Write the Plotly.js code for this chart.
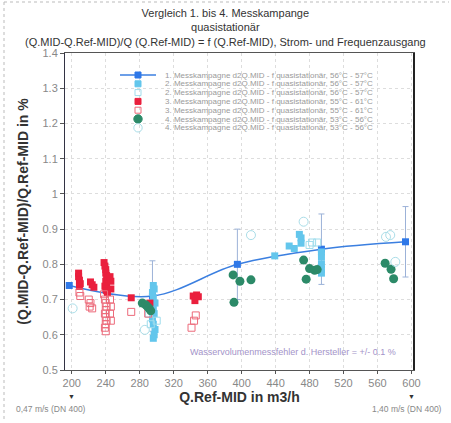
<!DOCTYPE html>
<html><head><meta charset="utf-8">
<script src="https://cdn.plot.ly/plotly-3.0.1.min.js"></script>
<style>html,body{margin:0;padding:0;background:#fff}#chart{width:451px;height:423px}</style>
</head><body><div id="chart"></div>
<script>
// ---- data ----
const seriesNames = [
  "1. Messkampagne d2Q.MID - f quasistationär, 56°C - 57°C",
  "2. Messkampagne d2Q.MID - f quasistationär, 56°C - 57°C",
  "2. Messkampagne d2Q.MID - f quasistationär, 56°C - 57°C",
  "3. Messkampagne d2Q.MID - f quasistationär, 55°C - 61°C",
  "3. Messkampagne d2Q.MID - f quasistationär, 55°C - 61°C",
  "4. Messkampagne d2Q.MID - f quasistationär, 53°C - 56°C",
  "4. Messkampagne d2Q.MID - f quasistationär, 53°C - 56°C"
];
const xTicks = [200,240,280,320,360,400,440,480,520,560,600];
const yTicks = [0.5,0.6,0.7,0.8,0.9,1,1.1,1.2,1.3,1.4];

const s1x = [197, 295, 395, 494, 593];
const s1y = [0.740, 0.710, 0.800, 0.843, 0.864];
const s1err = [0, 0.10, 0.10, 0.10, 0.10];

const s2x = [296,297,295,296,298,296,297,295,296,298,297,296,  439, 456, 462, 468, 470, 470, 494,494,494,494,494];
const s2y = [0.740,0.730,0.720,0.705,0.690,0.675,0.660,0.645,0.630,0.615,0.600,0.590, 0.824,0.852,0.845,0.885,0.875,0.860, 0.835,0.820,0.800,0.785,0.775];

const s3x = [291, 300, 293, 483, 489, 480];
const s3y = [0.660, 0.640, 0.630, 0.862, 0.862, 0.855];

const s4x = [208,208,209,210,209, 222,224,226, 238,239,240,240,241,242,240,241,239,240,241,242, 245,246,246, 270, 292, 343,347,349,345];
const s4y = [0.775,0.765,0.755,0.745,0.737, 0.750,0.742,0.735, 0.805,0.795,0.785,0.775,0.768,0.760,0.752,0.745,0.738,0.730,0.725,0.720, 0.765,0.752,0.730, 0.705, 0.690, 0.710,0.713,0.708,0.697];

const s5x = [209,210, 220,222,221,224, 238,239,240,241,240,239,240,241,240,239,240, 245,246,245,246, 270, 290, 346,344,341];
const s5y = [0.720,0.710, 0.700,0.690,0.680,0.675, 0.715,0.700,0.690,0.680,0.670,0.660,0.650,0.640,0.630,0.620,0.610, 0.700,0.680,0.660,0.640, 0.665, 0.660, 0.655,0.640,0.620];

const s6x = [283,287,289,291,293, 390,398,411,391, 473,480,486,476,489, 569,576,579];
const s6y = [0.690,0.685,0.680,0.675,0.668, 0.770,0.752,0.756,0.692, 0.812,0.788,0.783,0.758,0.785, 0.803,0.786,0.759];

const s7x = [286, 411, 473, 570, 575, 581, 201];
const s7y = [0.614, 0.883, 0.921, 0.878, 0.883, 0.807, 0.675];

// ---- geometry helpers ----
const W=451,H=423;
const M={l:65,r:37,t:53,b:53};
const PW=W-M.l-M.r, PH=H-M.t-M.b;
const xp = px => (px-M.l)/PW;
const yp = py => (H-M.b-py)/PH;

const FONT = "Liberation Sans, Arial, sans-serif";
const C = {
  blue:'#2f78e8', line:'#3b7fe0', err:'#9cb2d8',
  cyan:'#63c6ec', cyanOpen:'#9fdcec',
  red:'#ea1f3d', redOpen:'#ec6a7a',
  green:'#2c8a68', circOpen:'#a9dde8'
};

const traces = [
  {x:s1x,y:s1y,name:seriesNames[0],type:'scatter',mode:'lines+markers',
   line:{color:C.line,width:1.5,shape:'spline'},
   marker:{symbol:'square',size:7,color:C.blue},
   error_y:{type:'data',array:s1err,color:C.err,thickness:1,width:3}},
  {x:s2x,y:s2y,name:seriesNames[1],type:'scatter',mode:'markers',
   marker:{symbol:'square',size:7,color:C.cyan}},
  {x:s3x,y:s3y,name:seriesNames[2],type:'scatter',mode:'markers',
   marker:{symbol:'square-open',size:7,color:C.cyanOpen,line:{width:1}}},
  {x:s4x,y:s4y,name:seriesNames[3],type:'scatter',mode:'markers',
   marker:{symbol:'square',size:7,color:C.red}},
  {x:s5x,y:s5y,name:seriesNames[4],type:'scatter',mode:'markers',
   marker:{symbol:'square-open',size:7,color:C.redOpen,line:{width:1}}},
  {x:s6x,y:s6y,name:seriesNames[5],type:'scatter',mode:'markers',
   marker:{symbol:'circle',size:9,color:C.green}},
  {x:s7x,y:s7y,name:seriesNames[6],type:'scatter',mode:'markers',
   marker:{symbol:'circle-open',size:9,color:C.circOpen,line:{width:1}}}
];
traces.forEach(t=>{t.showlegend=false; t.cliponaxis=false;});

// custom compact legend
const legendStyle = [
  {kind:'sq',fill:C.blue,line:C.blue,withLine:true},
  {kind:'sq',fill:C.cyan,line:C.cyan},
  {kind:'sq',fill:'rgba(0,0,0,0)',line:C.cyanOpen},
  {kind:'sq',fill:C.red,line:C.red},
  {kind:'sq',fill:'rgba(0,0,0,0)',line:C.redOpen},
  {kind:'ci',fill:C.green,line:C.green},
  {kind:'ci',fill:'rgba(0,0,0,0)',line:C.circOpen}
];
const shapes=[], annotations=[];
legendStyle.forEach((s,i)=>{
  const py = 75 + i*8.8, cx = 138;
  if(s.withLine){
    shapes.push({type:'line',xref:'paper',yref:'paper',x0:xp(120),x1:xp(156),y0:yp(py),y1:yp(py),line:{color:C.line,width:1.5}});
  }
  const h = s.kind==='ci'?4.2:3;
  shapes.push({type:s.kind==='ci'?'circle':'rect',xref:'paper',yref:'paper',
    x0:xp(cx-h),x1:xp(cx+h),y0:yp(py+h),y1:yp(py-h),fillcolor:s.fill,line:{color:s.line,width:1}});
  annotations.push({xref:'paper',yref:'paper',x:xp(163),y:yp(py),xanchor:'left',yanchor:'middle',
    text:seriesNames[i],showarrow:false,font:{family:FONT,size:8,color:'#9a9a9a'}});
});

// title (one multi-line block)
const titleLines = ["Vergleich 1. bis 4. Messkampange","quasistationär",
  "(Q.MID-Q.Ref-MID)/Q (Q.Ref-MID) = f (Q.Ref-MID), Strom- und Frequenzausgang"];
annotations.push({xref:'paper',yref:'paper',x:xp(225.5),y:yp(6),xanchor:'center',yanchor:'top',
  text:titleLines.join('<br>'),showarrow:false,borderpad:0,font:{family:FONT,size:11,color:'#333'}});
// note
annotations.push({xref:'x',yref:'paper',x:461,y:yp(352),xanchor:'center',yanchor:'middle',
  text:'Wasservolumenmessfehler d. Hersteller = +/- 0.1 %',showarrow:false,font:{family:FONT,size:9,color:'#a393c9'}});
// bottom markers
annotations.push({xref:'x',yref:'paper',x:200,y:yp(396),yanchor:'middle',text:'▼',showarrow:false,font:{family:FONT,size:7,color:'#333'}});
annotations.push({xref:'x',yref:'paper',x:600,y:yp(396),yanchor:'middle',text:'▼',showarrow:false,font:{family:FONT,size:7,color:'#333'}});
annotations.push({xref:'paper',yref:'paper',x:xp(14),y:yp(409),xanchor:'left',yanchor:'middle',text:'0,47 m/s (DN 400)',showarrow:false,font:{family:FONT,size:8.5,color:'#888'}});
annotations.push({xref:'paper',yref:'paper',x:xp(370),y:yp(409),xanchor:'left',yanchor:'middle',text:'1,40 m/s (DN 400)',showarrow:false,font:{family:FONT,size:8.5,color:'#888'}});

// frame decorations
shapes.push({type:'line',xref:'paper',yref:'paper',x0:1,x1:1,y0:0,y1:1,line:{color:'#222',width:2}});
shapes.push({type:'line',xref:'paper',yref:'paper',x0:xp(4),x1:xp(4),y0:yp(2),y1:yp(421),line:{color:'#bbb',width:1,dash:'dot'}});
shapes.push({type:'line',xref:'paper',yref:'paper',x0:xp(4),x1:xp(449),y0:yp(2),y1:yp(2),line:{color:'#bbb',width:1,dash:'dot'}});

const layout = {
  width:W,height:H,margin:M,paper_bgcolor:'#fff',plot_bgcolor:'#fff',
  font:{family:FONT},
  showlegend:false,
  xaxis:{range:[192,603],tickvals:xTicks,ticks:'outside',ticklen:3,tickcolor:'#555',
    showline:true,linecolor:'#555',linewidth:1,mirror:true,
    showgrid:true,gridcolor:'#ddd',griddash:'dot',zeroline:false,
    tickfont:{family:FONT,size:11,color:'#888'},
    title:{text:'<b>Q.Ref-MID in m3/h</b>',font:{family:FONT,size:14,color:'#333'},standoff:0}},
  yaxis:{range:[0.5,1.4],tickvals:yTicks,ticks:'outside',ticklen:4,tickcolor:'#555',
    showline:true,linecolor:'#334',linewidth:1,mirror:true,
    showgrid:true,gridcolor:'#ddd',griddash:'dot',zeroline:false,
    tickfont:{family:FONT,size:11,color:'#888'},
    title:{text:'<b>(Q.MID-Q.Ref-MID)/Q.Ref-MID in %</b>',font:{family:FONT,size:14,color:'#333'},standoff:10}},
  shapes:shapes,annotations:annotations
};
Plotly.newPlot('chart',traces,layout,{staticPlot:true,displayModeBar:false});
</script></body></html>
